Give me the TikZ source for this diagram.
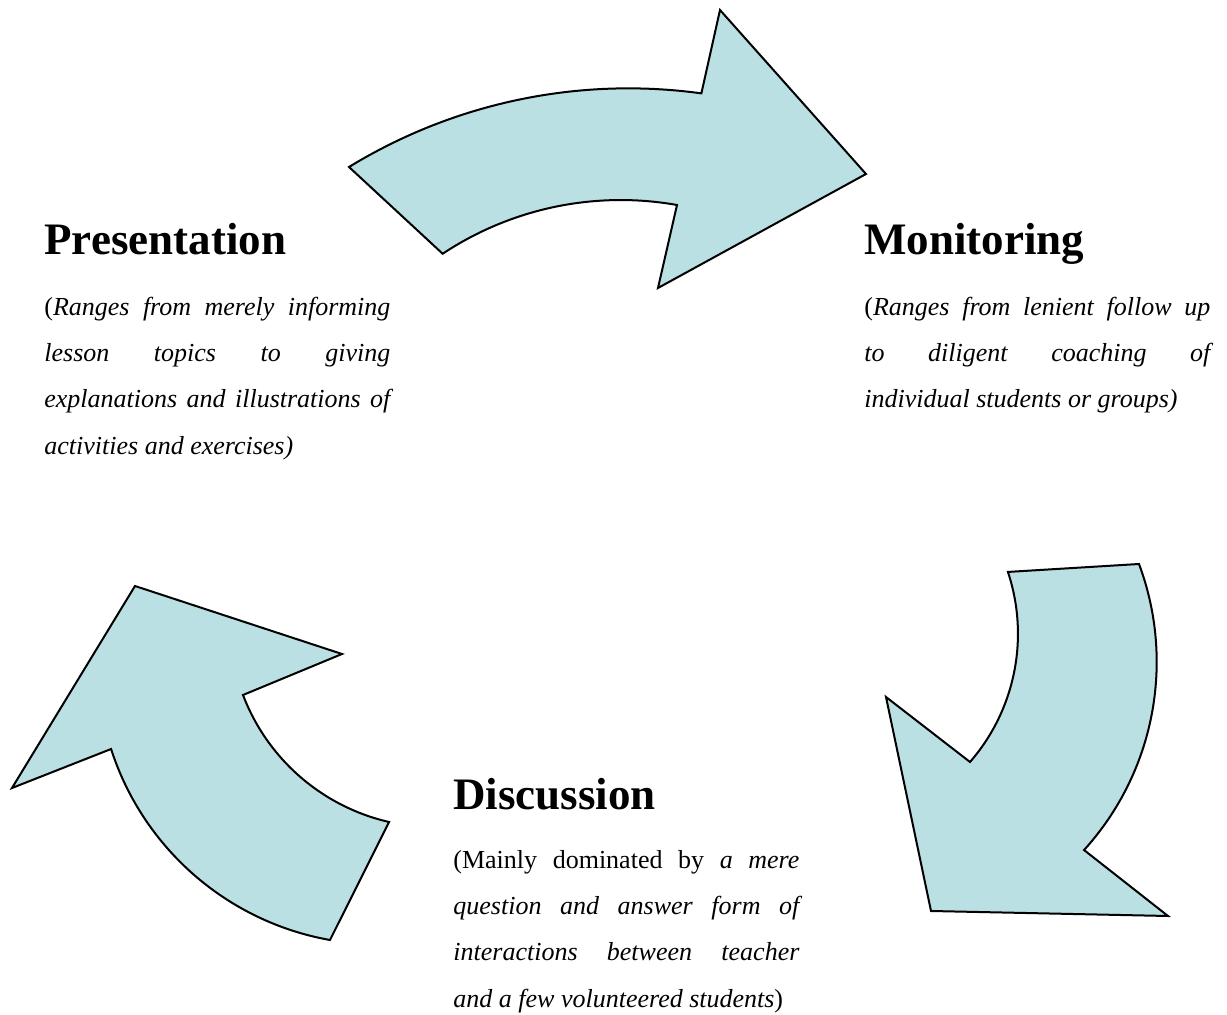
\documentclass[tikz,border=0pt]{standalone}
\usepackage{fontspec}
\setmainfont{Liberation Serif}
\tolerance=10000
\hyphenpenalty=10000
\definecolor{arrowfill}{RGB}{186,224,227}
\begin{document}
\begin{tikzpicture}[x=0.5pt,y=-0.5pt,
  cyclearrow/.style={draw=black, line width=1pt, fill=arrowfill, line join=miter},
  heading/.style={anchor=base west, inner sep=0pt,
    font=\fontsize{22.5}{27}\selectfont\bfseries},
  blurb/.style={anchor=north west, inner sep=0pt, text width=173pt, align=justify,
    font=\fontsize{13}{23.15}\selectfont}]
\useasboundingbox (0,0) rectangle (1227,1015);

% curved arrow: Presentation -> Monitoring
\draw[cyclearrow] (349,167) arc[start angle=-121.45, end angle=-82.15, radius=535.3]
  -- (720,10) -- (866,174) -- (658,288) -- (677,205)
  arc[start angle=-79.93, end angle=-123.57, radius=322] -- cycle;

% curved arrow: Monitoring -> Discussion
\draw[cyclearrow] (970,762) arc[start angle=41.0, end angle=-18.43, radius=195.5]
  -- (1139,564)
  arc[start angle=-20.48, end angle=42.23, radius=279.9]
  -- (1168,916) -- (931,911) -- (886,697) -- cycle;

% curved arrow: Discussion -> Presentation
\draw[cyclearrow] (135,586) -- (342,654) -- (243,695)
  arc[start angle=159.13, end angle=102.89, radius=205.3]
  -- (330,940)
  arc[start angle=100.07, end angle=162.13, radius=281.8]
  -- (12,788) -- cycle;

% stage titles
\node[heading] (presTitle) at (44,255) {Presentation};
\node[heading] (monTitle)  at (864,255) {Monitoring};
\node[heading] (discTitle) at (453,810) {Discussion};

% stage descriptions
\node[blurb] (presText) at (44,291) {\noindent\rule{0pt}{12pt}(\textit{Ranges from merely informing\linebreak lesson topics to giving\linebreak explanations and illustrations of\linebreak activities and exercises)}};
\node[blurb] (monText) at (864,291) {\noindent\rule{0pt}{12pt}(\textit{Ranges from lenient follow up\linebreak to diligent coaching of\linebreak individual students or groups)}};
\node[blurb] (discText) at (453,844) {\noindent\rule{0pt}{12pt}(Mainly dominated by \textit{a mere\linebreak question and answer form of\linebreak interactions between teacher\linebreak and a few volunteered students})};
\end{tikzpicture}
\end{document}
